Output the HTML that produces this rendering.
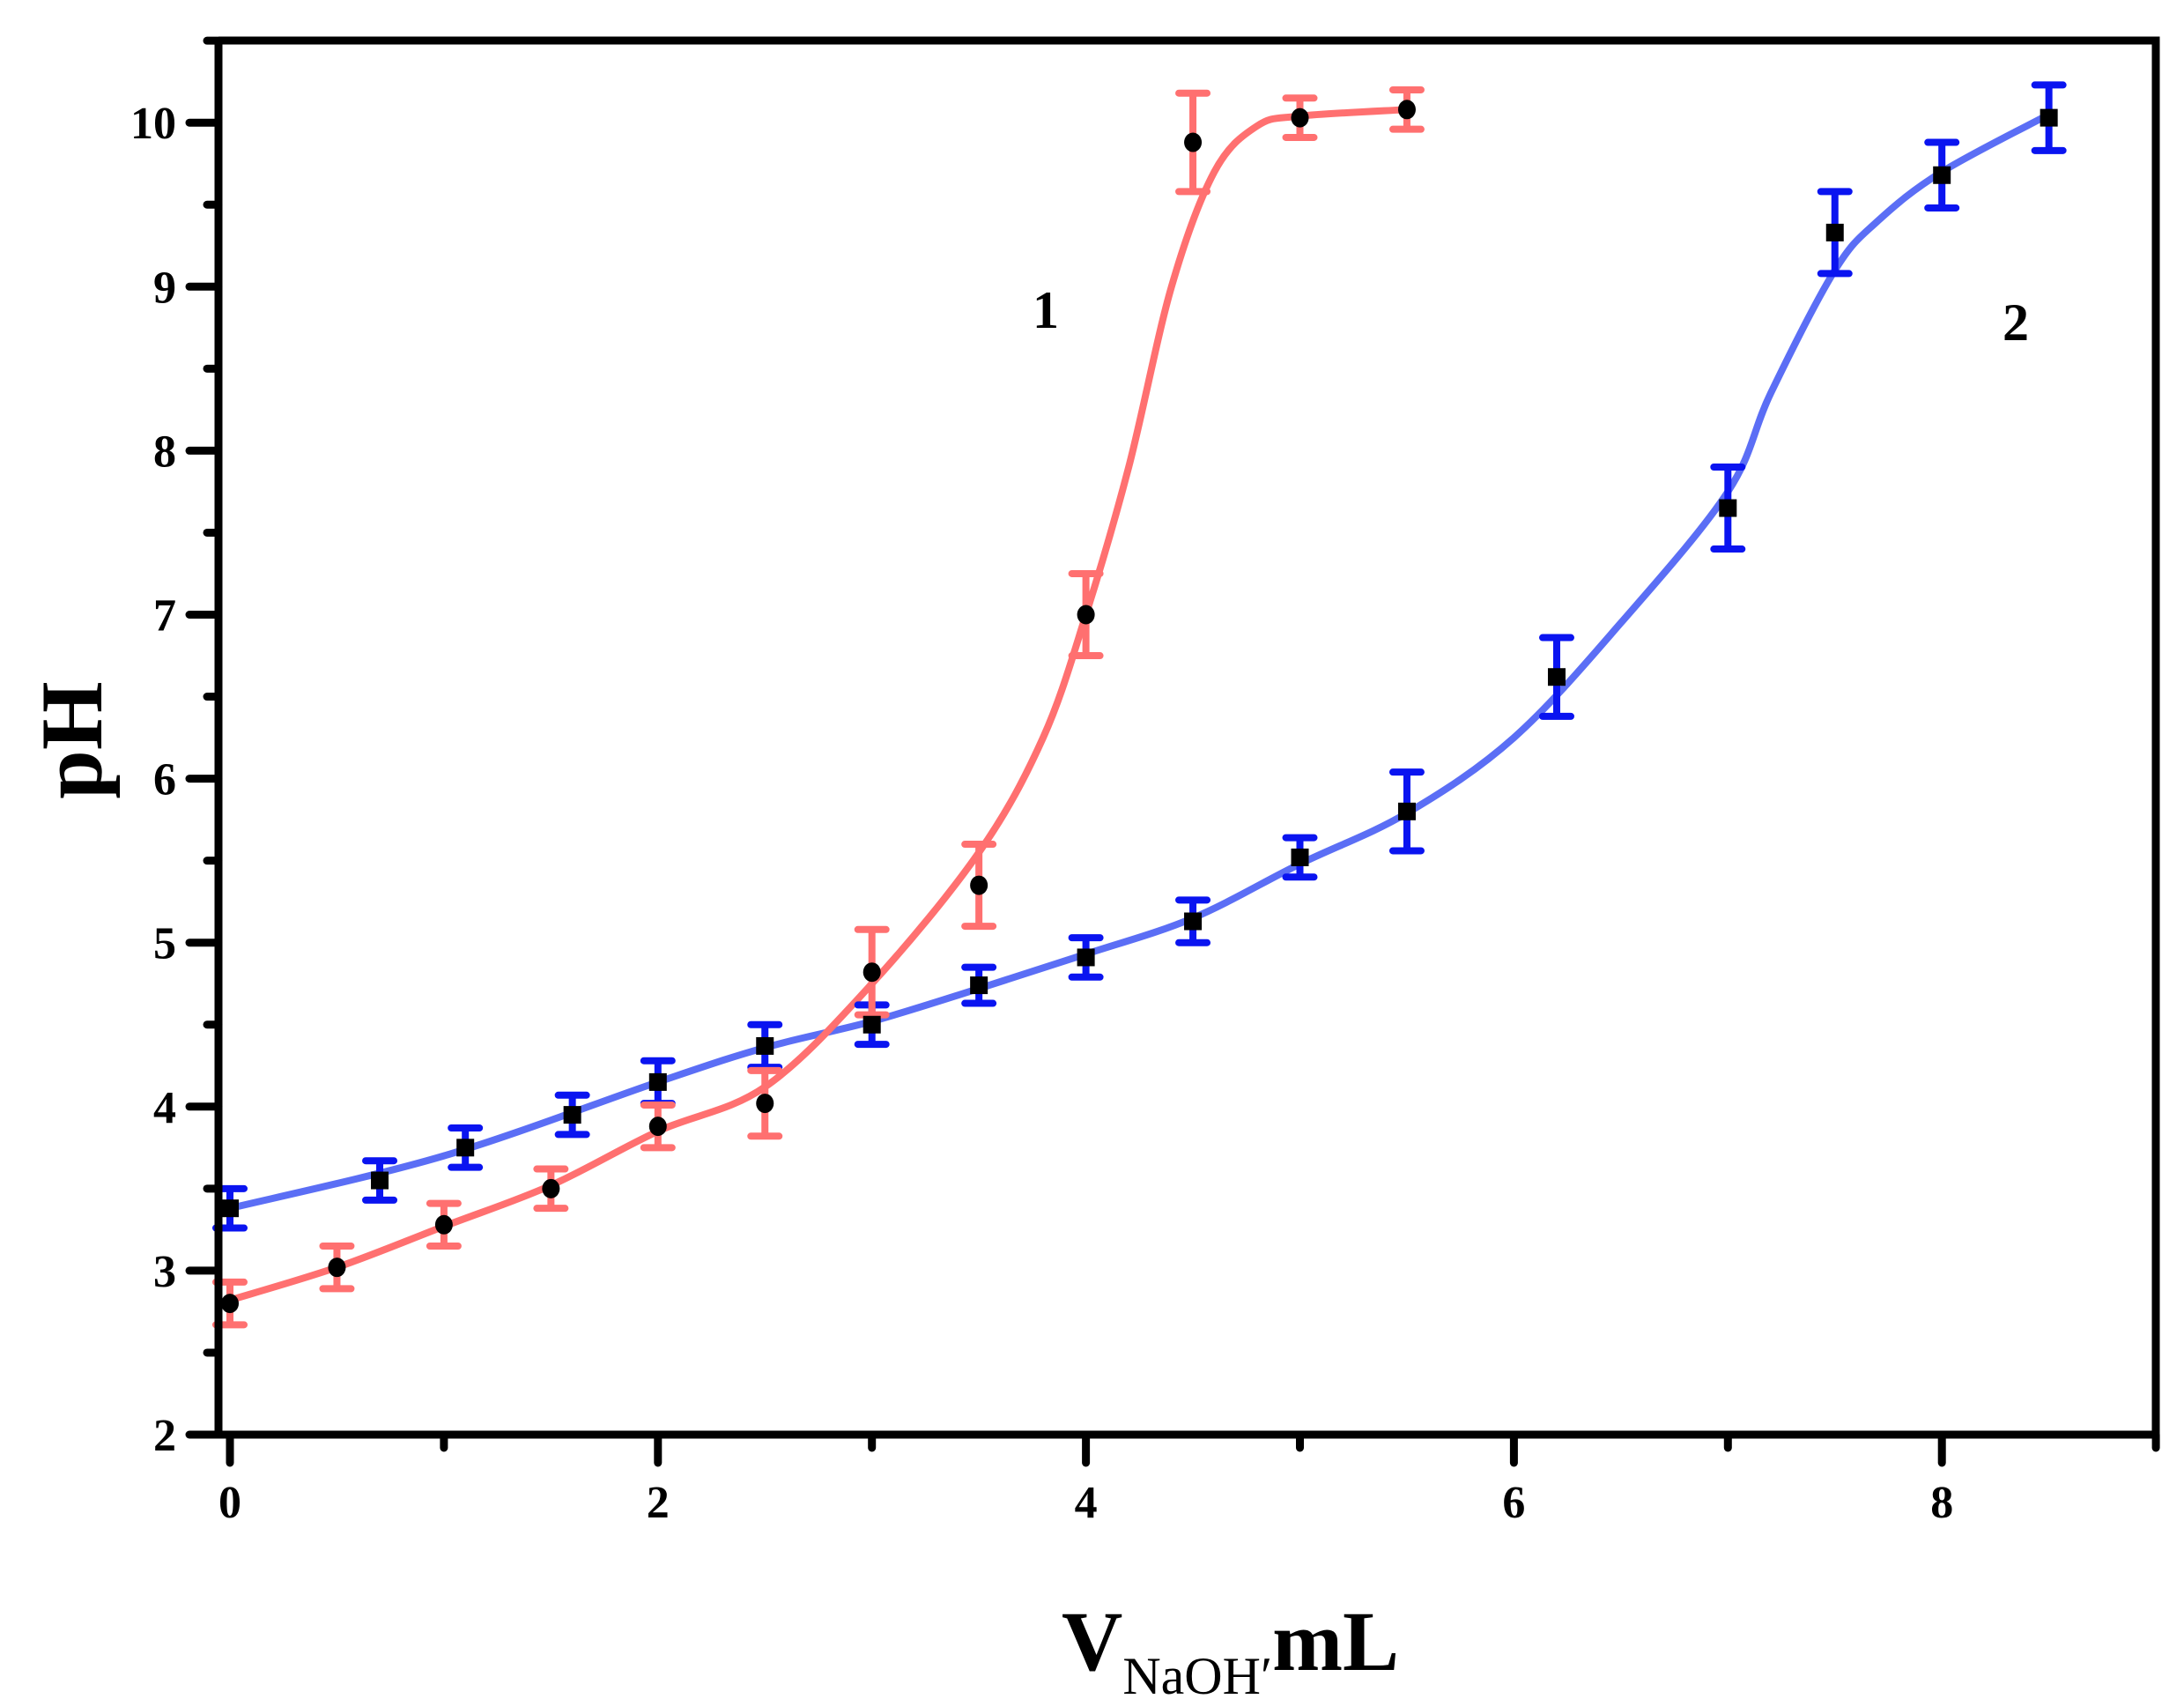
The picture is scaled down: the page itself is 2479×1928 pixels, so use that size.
<!DOCTYPE html>
<html><head><meta charset="utf-8"><style>
html,body{margin:0;padding:0;background:#fff;}
svg{display:block;}
</style></head><body>
<svg id="s" width="2479" height="1928" xmlns="http://www.w3.org/2000/svg" font-family="Liberation Serif, serif">
<g id="plot"></g>
<g stroke="#000" stroke-width="9" stroke-linecap="round" fill="none" id="axes"></g>
<g font-size="52" font-weight="bold" fill="#000" id="labels"></g>
<text transform="translate(115,840) rotate(-90)" text-anchor="middle" font-size="100" font-weight="bold">pH</text>
<text x="1205" y="1895" font-size="96" font-weight="bold">V<tspan font-size="60" font-weight="normal" dy="27">NaOH′</tspan><tspan dy="-27">mL</tspan></text>
<text x="1172" y="372" font-size="60" font-weight="bold">1</text>
<text x="2273" y="386" font-size="60" font-weight="bold">2</text>
</svg>
<script>
const X=v=>261+v*242.9, Y=v=>1628-(v-2)*186.1;
const NS="http://www.w3.org/2000/svg";
function el(p,t,a){const e=document.createElementNS(NS,t);for(const k in a)e.setAttribute(k,a[k]);p.appendChild(e);return e;}
const plot=document.getElementById('plot'),axes=document.getElementById('axes'),lab=document.getElementById('labels');
function smooth(pts){let d=`M${X(pts[0][0])},${Y(pts[0][1])}`;
 for(let i=0;i<pts.length-1;i++){const p0=pts[Math.max(0,i-1)],p1=pts[i],p2=pts[i+1],p3=pts[Math.min(pts.length-1,i+2)];
  const a=[X(p1[0])+(X(p2[0])-X(p0[0]))/6,Y(p1[1])+(Y(p2[1])-Y(p0[1]))/6],b=[X(p2[0])-(X(p3[0])-X(p1[0]))/6,Y(p2[1])-(Y(p3[1])-Y(p1[1]))/6];
  d+=` C${a[0]},${a[1]} ${b[0]},${b[1]} ${X(p2[0])},${Y(p2[1])}`;}return d;}
const RED="#ff7070",BLUE="#5b6ef5",BLUEE="#0a14f0";
const redC=[[0,2.82],[0.5,3.02],[1,3.27],[1.5,3.52],[2,3.85],[2.5,4.12],[3,4.75],[3.5,5.55],[3.8,6.25],[4,7.0],[4.2,7.9],[4.4,9.0],[4.6,9.7],[4.8,9.98],[5,10.04],[5.5,10.08]];
const bluC=[[0,3.38],[1,3.7],[2,4.15],[2.5,4.36],[3,4.52],[3.5,4.72],[4,4.93],[4.5,5.15],[5,5.48],[5.5,5.79],[6,6.25],[6.5,6.95],[7,7.75],[7.2,8.35],[7.5,9.1],[7.7,9.4],[8,9.7],[8.5,10.05]];
const redP=[[0,2.8,.13],[0.5,3.02,.13],[1,3.28,.13],[1.5,3.5,.12],[2,3.88,.13],[2.5,4.02,.2],[3,4.82,.26],[3.5,5.35,.25],[4,7.0,.25],[4.5,9.88,.3],[5,10.03,.12],[5.5,10.08,.12]];
const bluP=[[0,3.38,.12],[0.7,3.55,.12],[1.1,3.75,.12],[1.6,3.95,.12],[2,4.15,.13],[2.5,4.37,.13],[3,4.5,.12],[3.5,4.74,.11],[4,4.91,.12],[4.5,5.13,.13],[5,5.52,.12],[5.5,5.8,.24],[6.2,6.62,.24],[7,7.65,.25],[7.5,9.33,.25],[8,9.68,.2],[8.5,10.03,.2]];
function errs(P,c){P.forEach(p=>{const x=X(p[0]),t=Y(p[1]+p[2]),b=Y(p[1]-p[2]);
 el(plot,'path',{d:`M${x},${t}V${b}M${x-16},${t}H${x+16}M${x-16},${b}H${x+16}`,stroke:c,'stroke-width':8,'stroke-linecap':'round',fill:'none'});});}
el(plot,'path',{d:smooth(bluC),stroke:BLUE,'stroke-width':8,fill:'none'});
el(plot,'path',{d:smooth(redC),stroke:RED,'stroke-width':8,fill:'none'});
errs(bluP,BLUEE);errs(redP,RED);
bluP.forEach(p=>el(plot,'rect',{x:X(p[0])-10,y:Y(p[1])-10,width:20,height:20,fill:'#000'}));
redP.forEach(p=>el(plot,'ellipse',{cx:X(p[0]),cy:Y(p[1]),rx:10,ry:11,fill:'#000'}));
el(axes,'path',{d:`M248,46V1628H2447V46H248`,'stroke-linecap':'butt','stroke-linejoin':'miter'});
for(let v=2;v<=10.5;v+=0.5){const y=Y(v),maj=Number.isInteger(v);el(axes,'path',{d:`M${maj?215:235},${y}H248`});
 if(maj){el(lab,'text',{x:200,y:y+18,'text-anchor':'end'}).textContent=v;}}
for(let v=0;v<=9;v+=1){const x=X(v),maj=v%2==0;el(axes,'path',{d:`M${x},1628V${maj?1660:1643}`});
 if(maj){el(lab,'text',{x:x,y:1722,'text-anchor':'middle'}).textContent=v;}}
</script>
</body></html>
